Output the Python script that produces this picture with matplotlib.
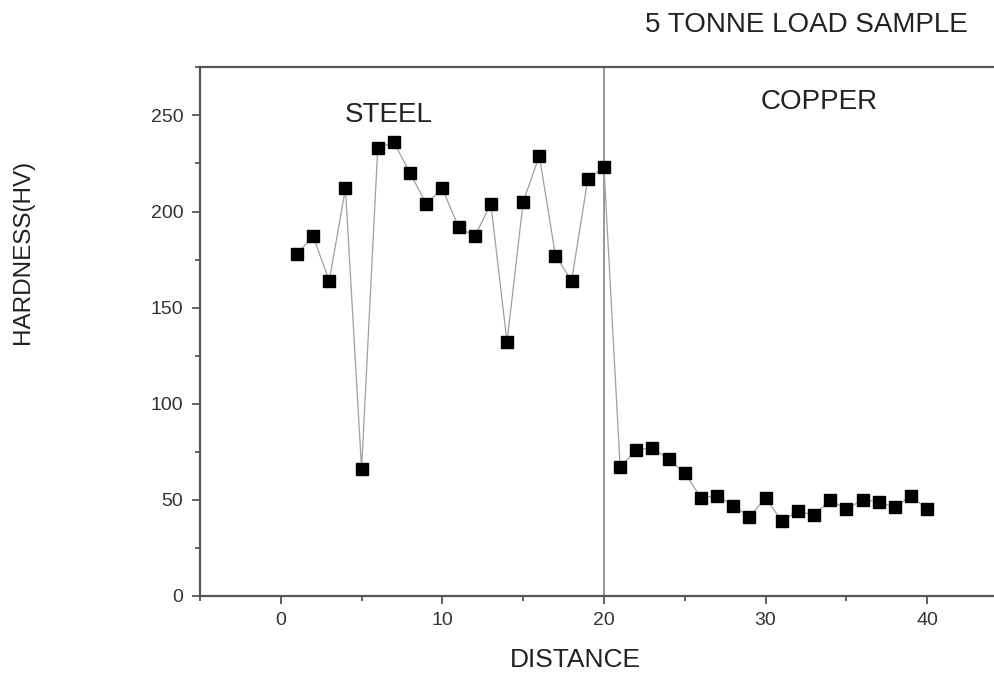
import matplotlib
matplotlib.use("Agg")
import matplotlib.pyplot as plt
from matplotlib.ticker import MultipleLocator

plt.rcParams['font.family'] = ['Liberation Sans', 'DejaVu Sans']

# hardness readings along the sample
distance = list(range(1, 41))
hardness = [178, 187, 164, 212, 66, 233, 236, 220, 204, 212,
            192, 187, 204, 132, 205, 229, 177, 164, 217, 223,
            67, 76, 77, 71, 64, 51, 52, 47, 41, 51,
            39, 44, 42, 50, 45, 50, 49, 46, 52, 45]
interface_x = 20

fig = plt.figure(figsize=(9.95, 6.74), dpi=100)
ax = fig.add_axes([0.201, 0.116, 0.812, 0.784])

ax.axvline(interface_x, color='#999999', lw=1.4, zorder=1)
ax.plot(distance, hardness, color='#a0a0a0', lw=0.9, zorder=2)
ax.plot(distance, hardness, ls='none', marker='s', ms=8.5, color='black', zorder=3)

ax.set_xlim(-5, 45)
ax.set_ylim(0, 275)
ax.xaxis.set_major_locator(MultipleLocator(10))
ax.xaxis.set_minor_locator(MultipleLocator(5))
ax.yaxis.set_major_locator(MultipleLocator(50))
ax.yaxis.set_minor_locator(MultipleLocator(25))

for side in ['left', 'bottom', 'top']:
    ax.spines[side].set_color('#555555')
    ax.spines[side].set_linewidth(1.6)
ax.spines['right'].set_visible(False)

ax.tick_params(which='major', direction='out', length=6, width=1.3, colors='#555555',
               labelsize=14, labelcolor='#333333', pad=6)
ax.tick_params(which='minor', direction='out', length=3.5, width=1.3, colors='#555555')

ax.set_xlabel('DISTANCE', fontsize=19, color='#222222')
ax.xaxis.set_label_coords(0.465, -0.098)
ax.set_ylabel('HARDNESS(HV)', fontsize=17.5, color='#222222')
ax.yaxis.set_label_coords(-0.206, 0.65)

ax.text(6.65, 250, 'STEEL', fontsize=20, color='#222222', ha='center', va='center')
ax.text(33.35, 257, 'COPPER', fontsize=20, color='#222222', ha='center', va='center')
fig.text(0.81, 0.963, '5 TONNE LOAD SAMPLE', fontsize=20, color='#222222', ha='center', va='center')

fig.savefig('out.png', dpi=100)
